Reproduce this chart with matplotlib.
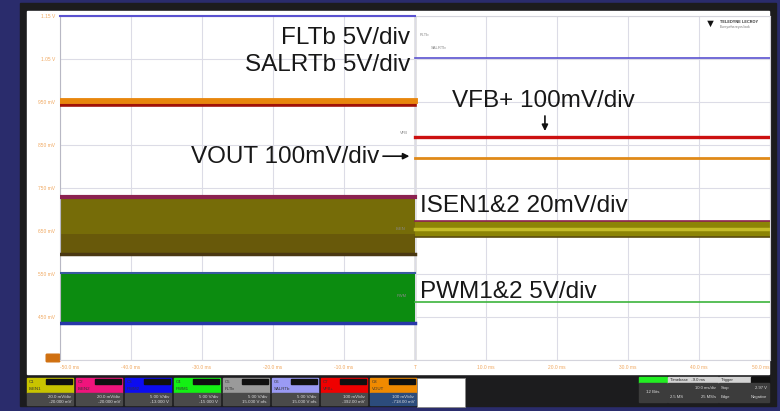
import numpy as np
import matplotlib.pyplot as plt
from matplotlib.patches import Rectangle, FancyBboxPatch

plt.rcParams['font.family'] = ['Liberation Sans', 'DejaVu Sans']

# ---- scope data (time in ms, amplitude in divisions) ----
t_pre = [-50, 0]
t_post = [0, 50]

fltb_pre, fltb_post = 4.0, 3.02
vout_pre, vout_post = 2.02, 0.70
vfb_pre, vfb_post = 1.93, 1.19
isen_top_pre, isen_bot_pre = -0.19, -1.56
isen_top_post, isen_bot_post = -0.76, -1.14
pwm_top_pre, pwm_bot_pre = -1.95, -3.19
pwm_post = -2.65

x_ticks = np.arange(-50, 51, 10)
x_labels = ['-50.0 ms', '-40.0 ms', '-30.0 ms', '-20.0 ms', '-10.0 ms', 'T',
            '10.0 ms', '20.0 ms', '30.0 ms', '40.0 ms', '50.0 ms']
y_ticks = np.arange(-4, 5, 1)
y_labels = ['', '450 mV', '550 mV', '650 mV', '750 mV', '850 mV', '950 mV',
            '1.05 V', '1.15 V']

ch_ids = ['C1', 'C2', 'C3', 'C4', 'C5', 'C6', 'C7', 'C8']
ch_names = ['ISEN1', 'ISEN2', 'PWM2', 'PWM1', 'FLTb', 'SALRTb', 'VFB+', 'VOUT']
ch_colors = ['#c8c400', '#f0147c', '#0c0cf0', '#14f014', '#9a9a9a', '#9a9af4',
             '#f00000', '#f08a00']
ch_scale = ['20.0 mV/div', '20.0 mV/div', '5.00 V/div', '5.00 V/div',
            '5.00 V/div', '5.00 V/div', '100 mV/div', '100 mV/div']
ch_offset = ['-20.000 mV', '-20.000 mV', '-13.000 V', '-15.000 V',
             '15.000 V ofs', '15.000 V ofs', '-392.00 mV', '-718.00 mV']

W, H = 780, 411
fig = plt.figure(figsize=(7.8, 4.11), dpi=100)
fig.patch.set_facecolor('#2a2c6c')

# screen frame, pixel coordinates
bg = fig.add_axes([0, 0, 1, 1])
bg.set_xlim(0, W)
bg.set_ylim(H, 0)
bg.axis('off')
bg.add_patch(Rectangle((20, 3), 756, 403, color='#1c1c1e'))
bg.add_patch(Rectangle((27, 11), 742, 363, color='white'))

# channel boxes
for i in range(8):
    x0 = 27 + 49 * i
    bg.add_patch(Rectangle((x0, 378), 46, 15, color=ch_colors[i]))
    bg.add_patch(Rectangle((x0 + 19, 379), 26, 5, color='#101010'))
    low = '#2c4c7c' if i == 7 else '#4a4a4a'
    bg.add_patch(Rectangle((x0, 393), 46, 12, color=low))
    bg.text(x0 + 2, 381.5, ch_ids[i], fontsize=3.2, color='#333', va='center')
    bg.text(x0 + 2, 389, ch_names[i], fontsize=3.2, color='#333', va='center')
    bg.text(x0 + 44, 396.5, ch_scale[i], fontsize=3.2, color='#ddd',
            va='center', ha='right')
    bg.text(x0 + 44, 402, ch_offset[i], fontsize=3.2, color='#ddd',
            va='center', ha='right')
bg.add_patch(Rectangle((417, 378), 48, 29, facecolor='white',
                       edgecolor='#888', lw=0.6))

# acquisition / timebase / trigger boxes
bg.add_patch(Rectangle((639, 377), 28, 6, color='#22ee22'))
bg.add_patch(Rectangle((639, 383), 28, 19, color='#3c3c3c'))
bg.text(653, 392, '12 Bits', fontsize=3.2, color='#ddd', ha='center', va='center')
bg.add_patch(Rectangle((668, 377), 50, 6, color='#d4d4d4'))
bg.add_patch(Rectangle((668, 383), 50, 19, color='#3c3c3c'))
bg.text(670, 380, 'Timebase   -9.0 ms', fontsize=3, color='#222', va='center')
bg.text(716, 388, '10.0 ms/div', fontsize=3, color='#ddd', va='center', ha='right')
bg.text(670, 397, '2.5 MS', fontsize=3, color='#ddd', va='center')
bg.text(716, 397, '25 MS/s', fontsize=3, color='#ddd', va='center', ha='right')
bg.add_patch(Rectangle((719, 377), 32, 6, color='#d4d4d4'))
bg.add_patch(Rectangle((751, 377), 18, 6, color='#111'))
bg.add_patch(Rectangle((719, 383), 50, 19, color='#3c3c3c'))
bg.text(721, 380, 'Trigger', fontsize=3, color='#222', va='center')
bg.text(721, 388, 'Stop', fontsize=3, color='#ddd', va='center')
bg.text(767, 388, '2.97 V', fontsize=3, color='#ddd', va='center', ha='right')
bg.text(721, 397, 'Edge', fontsize=3, color='#ddd', va='center')
bg.text(767, 397, 'Negative', fontsize=3, color='#ddd', va='center', ha='right')

# ground marker and logo
bg.add_patch(FancyBboxPatch((47, 355), 12, 6, boxstyle='round,pad=0.8',
                            color='#d07010'))
bg.text(710, 24, '\u25BC', fontsize=8, color='#111', ha='center', va='center')
bg.text(720, 22, 'TELEDYNE LECROY', fontsize=2.8, color='#333',
        weight='bold', va='center')
bg.text(720, 27, 'Everywhereyoulook', fontsize=2.5, color='#777', va='center')

# ---- scope graticule ----
ax = fig.add_axes([60 / W, 1 - 360 / H, 710 / W, 344 / H])
ax.set_facecolor('none')
ax.set_xlim(-50, 50)
ax.set_ylim(-4, 4)
ax.set_xticks(x_ticks)
ax.set_xticklabels(x_labels)
ax.set_yticks(y_ticks)
ax.set_yticklabels(y_labels)
ax.grid(color='#dcdce6', lw=0.8)
ax.tick_params(length=0, labelsize=3.5, colors='#f0a860', pad=3.5)
xl = ax.get_xticklabels()
xl[0].set_ha('left')
xl[-1].set_ha('right')
for s in ax.spines.values():
    s.set_color('#d4d4dc')
    s.set_linewidth(0.8)
ax.spines['left'].set_color('#b8b8c4')
ax.axvline(0, color='#7a7a7a', lw=1.0, zorder=1)

# ISEN band
ax.fill_between(t_pre, isen_bot_pre, isen_top_pre, color='#766c08', lw=0, zorder=2)
ax.fill_between(t_pre, isen_bot_pre, (isen_top_pre + isen_bot_pre) / 2 - 0.2,
                color='#68590a', lw=0, zorder=2)
ax.plot(t_pre, [isen_top_pre - 0.03] * 2, color='#8c2250', lw=3, zorder=3)
ax.plot(t_pre, [isen_bot_pre + 0.03] * 2, color='#4a3812', lw=2.5, zorder=3)
ax.fill_between(t_post, isen_bot_post, isen_top_post, color='#8c8406', lw=0, zorder=2)
ax.plot(t_post, [(isen_top_post + isen_bot_post) / 2] * 2, color='#c4bc28',
        lw=2.5, zorder=3)
ax.plot(t_post, [isen_top_post] * 2, color='#8c2250', lw=1.2, zorder=3)
ax.plot(t_post, [isen_bot_post] * 2, color='#5a4c10', lw=1.2, zorder=3)

# PWM band
ax.fill_between(t_pre, pwm_bot_pre, pwm_top_pre, color='#0c8c10', lw=0, zorder=2)
ax.plot(t_pre, [pwm_top_pre - 0.02] * 2, color='#3a5aa0', lw=1.5, zorder=3)
ax.plot(t_pre, [pwm_bot_pre + 0.04] * 2, color='#2838a8', lw=2.5, zorder=3)
ax.plot(t_post, [pwm_post] * 2, color='#3cb43c', lw=1.2, zorder=3)

# VOUT / VFB
ax.plot(t_pre, [vfb_pre] * 2, color='#a01208', lw=2.6, zorder=4)
ax.plot(t_pre, [vout_pre] * 2, color='#e8860c', lw=4.2, zorder=4)
ax.plot(t_post, [vfb_post] * 2, color='#cc1010', lw=2.4, zorder=4)
ax.plot(t_post, [vout_post] * 2, color='#e08a18', lw=2.0, zorder=4)

# FLTb / SALRTb
ax.plot(t_pre, [fltb_pre] * 2, color='#5a52d0', lw=1.5, zorder=5, clip_on=False)
ax.plot(t_post, [fltb_post] * 2, color='#5a52d0', lw=1.2, zorder=5)

# small trace tags near the trigger line
tags = [('FLTb', 1.3, 3.55), ('SALRTb', 3.3, 3.25), ('VFB', -1.6, 1.27),
        ('ISEN', -2.0, -0.95), ('PWM', -1.8, -2.5)]
for txt, tx, ty in tags:
    ax.text(tx, ty, txt, fontsize=3, color='#888', ha='center', va='center',
            zorder=6)

# annotations
big = dict(fontsize=17.5, color='#181818', zorder=7)
ax.text(-0.7, 3.5, 'FLTb 5V/div', ha='right', va='center', **big)
ax.text(-0.7, 2.86, 'SALRTb 5V/div', ha='right', va='center', **big)
ax.text(5.2, 2.02, 'VFB+ 100mV/div', ha='left', va='center', **big)
ax.annotate('', xy=(18.3, 1.26), xytext=(18.3, 1.74),
            arrowprops=dict(arrowstyle='-|>', color='#111', lw=1.2,
                            mutation_scale=9), zorder=7)
ax.text(-5.1, 0.72, 'VOUT 100mV/div', ha='right', va='center', **big)
ax.annotate('', xy=(-0.4, 0.74), xytext=(-4.9, 0.74),
            arrowprops=dict(arrowstyle='-|>', color='#111', lw=1.2,
                            mutation_scale=9), zorder=7)
ax.text(0.7, -0.42, 'ISEN1&2 20mV/div', ha='left', va='center', **big)
ax.text(0.7, -2.42, 'PWM1&2 5V/div', ha='left', va='center', **big)

fig.savefig('out.png', dpi=100, facecolor=fig.get_facecolor())
